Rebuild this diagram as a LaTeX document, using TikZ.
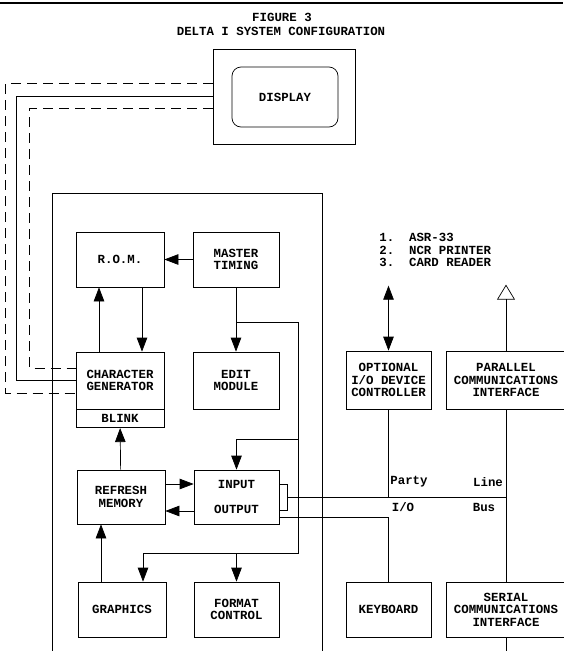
\documentclass[tikz,border=0pt]{standalone}
\usepackage{fontspec}
\setmonofont{Liberation Mono}
\usetikzlibrary{arrows.meta,positioning}

\tikzset{
  blk/.style={draw, align=center, inner sep=0pt, minimum width=86pt, minimum height=56pt},
  arr/.style={-{Triangle[length=14pt,width=10.5pt]}},
  arrboth/.style={{Triangle[length=14pt,width=10.5pt]}-{Triangle[length=14pt,width=10.5pt]}},
  arropen/.style={-{Triangle[open,length=15pt,width=18pt]}},
  lnk/.style={dash pattern=on 10pt off 6pt}
}

\begin{document}
\begin{tikzpicture}[x=1pt, y=-1pt, line width=0.7pt,
  font=\ttfamily\bfseries\fontsize{12.4}{12.5}\selectfont]
\useasboundingbox (0,0) rectangle (563,651);
\draw[line width=1.2pt] (0,3) -- (563,3);

% title
\node (fig) at (282,17) {FIGURE 3};
\node (ttl) at (281,31) {DELTA I SYSTEM CONFIGURATION};

% display
\node[blk, minimum width=142pt, minimum height=95pt] (display) at (284,96.5) {};
\node[blk, rounded corners=9pt, minimum width=106pt, minimum height=60pt] (screen) at (285,97) {DISPLAY};

% main unit
\node[draw, minimum width=270pt, minimum height=467pt] (unit) at (187,426.5) {};

\node[blk, minimum width=88pt, minimum height=55pt] (rom) at (120,259.5) {R.O.M.};
\node[blk, minimum height=55pt] (timing) at (236,259.5) {MASTER\\TIMING};
\node[blk, minimum width=88pt, minimum height=57pt] (chargen) at (120,380.5) {CHARACTER\\GENERATOR};
\node[blk, minimum width=88pt, minimum height=18pt, below=0pt of chargen] (blink) {BLINK};
\node[blk, minimum height=57pt] (edit) at (236,380.5) {EDIT\\MODULE};
\node[blk, minimum width=88pt, minimum height=54pt] (refresh) at (121,497) {REFRESH\\MEMORY};
\node[blk, minimum width=85pt, minimum height=54pt] (io) at (236.5,497) {INPUT\\[13pt]OUTPUT};
\node[blk, minimum width=88pt, minimum height=55pt] (graphics) at (122,609.5) {GRAPHICS};
\node[blk, minimum width=85pt, minimum height=55pt] (format) at (236.5,609.5) {FORMAT\\CONTROL};

% peripherals
\node[blk, minimum width=85pt, minimum height=58pt] (optctl) at (388.5,380) {OPTIONAL\\I/O DEVICE\\CONTROLLER};
\node[blk, minimum width=120pt, minimum height=58pt] (parallel) at (506,380) {PARALLEL\\COMMUNICATIONS\\INTERFACE};
\node[blk, minimum width=85pt, minimum height=55pt] (keyboard) at (388.5,609.5) {KEYBOARD};
\node[blk, minimum width=120pt, minimum height=55pt] (serial) at (506,609.5) {SERIAL\\COMMUNICATIONS\\INTERFACE};
\node[align=left, anchor=north west, inner sep=0pt] (devs) at (379,233)
  {1.\ \ ASR-33\\2.\ \ NCR PRINTER\\3.\ \ CARD READER};

% display links
\draw[lnk] ([yshift=13.5pt]display.west) -| ([xshift=-70pt,yshift=-12.5pt]chargen.west) -- ([yshift=-12.5pt]chargen.west);
\draw (display.west) -| ([xshift=-59pt]chargen.west) -- (chargen.west);
\draw[lnk] ([yshift=-11.5pt]display.west) -| ([xshift=-46pt,yshift=12.5pt]chargen.west) -- ([yshift=12.5pt]chargen.west);

% internal paths
\draw[arr] (timing) -- (rom);
\draw[arr] ([xshift=-21pt]chargen.north) -- ([xshift=-21pt]rom.south);
\draw[arr] ([xshift=22pt]rom.south) -- ([xshift=22pt]chargen.north);
\draw[arr] (timing) -- (edit);
\coordinate (tap) at (236,322);
\draw (tap) -- (298,322) coordinate (rr) -- (298,553) coordinate (lo) -- (143,553) coordinate (gl);
\draw[arr] (rr |- 0,439) -| (io.north);
\draw[arr] (gl) -- ([xshift=21pt]graphics.north);
\draw[arr] (format.north |- lo) -- (format.north);
\draw[arr] (refresh) -- (blink);
\draw[arr] ([xshift=-21pt]graphics.north) -- ([xshift=-21pt]graphics.north |- refresh.south);
\draw[arr] ([yshift=13pt]refresh.east) -- ([yshift=13pt]refresh.east -| io.west);
\draw[arr] ([yshift=-14pt]io.west) -- ([yshift=-14pt]io.west -| refresh.east);
\draw ([yshift=13pt]io.east) -- ++(8,0) coordinate (brk) -- ++(0,26) -- ([yshift=-13pt]io.east);

% party line bus
\coordinate (bus) at (brk |- io.east);
\draw (bus) -- (parallel.south |- bus);
\draw (optctl.south) -- (optctl.south |- bus);
\draw (parallel) -- (serial);
\draw (serial.south) -- ++(0,30);
\draw (keyboard.north) |- ([yshift=-20pt]io.east);
\draw[arrboth] (optctl.north) -- ++(0,-65) coordinate (devtip);
\draw[arropen] (parallel.north) -- ++(0,-66) coordinate (partip);

\node (pty) at (409,482) {Party};
\node (lin) at (488,482) {Line};
\node (iol) at (403,507) {I/O};
\node (bsl) at (484,507) {Bus};
\end{tikzpicture}
\end{document}
